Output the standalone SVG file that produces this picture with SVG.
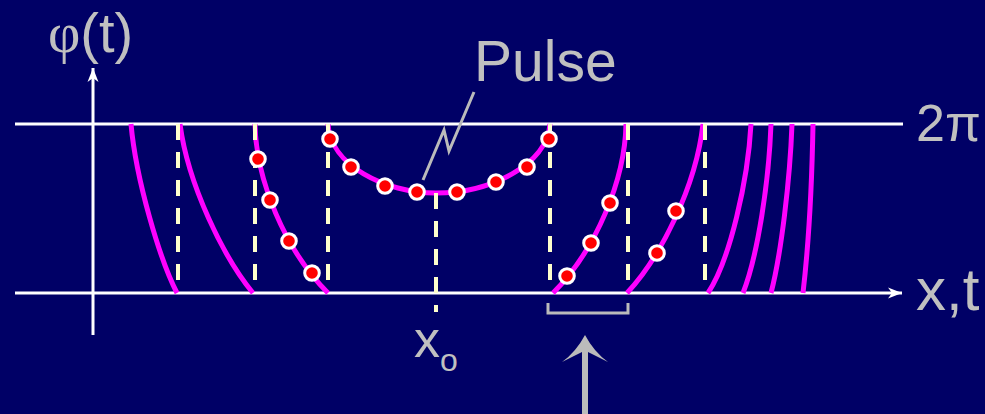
<svg xmlns="http://www.w3.org/2000/svg" width="985" height="414" viewBox="0 0 985 414">
<defs>
<style>
.axis{stroke:#FFFFFF;stroke-width:3;fill:none}
.curve{stroke:#FF00FF;stroke-width:5;fill:none;stroke-linecap:butt}
.dash{stroke:#FFFFCC;stroke-width:4;stroke-dasharray:16 12;fill:none}
.gray{stroke:#BBBBBB;stroke-width:3;fill:none}
.dot{fill:#FF0000;stroke:#FFFFFF;stroke-width:3}
.lbl{font-family:"Liberation Sans",Arial,sans-serif;fill:#C0C0C0}
</style>
<marker id="ah" markerUnits="userSpaceOnUse" viewBox="-16 -8 18 16" refX="0" refY="0" markerWidth="18" markerHeight="16" orient="auto">
<path d="M0,0 L-14,-5.5 L-10,0 L-14,5.5 Z" fill="#FFFFFF"/>
</marker>
</defs>
<rect x="0" y="0" width="985" height="414" fill="#000066"/>
<g id="axes">
<line class="axis" x1="15" y1="124" x2="903" y2="124"/>
<line class="axis" x1="15" y1="293" x2="902" y2="293" marker-end="url(#ah)"/>
<line class="axis" x1="93" y1="335" x2="93" y2="68" marker-end="url(#ah)"/>
</g>
<g id="curves">
<path class="curve" d="M131,124 C136,180 160,260 177,293"/>
<path class="curve" d="M180,124 C188,185 224,258 253,293"/>
<path class="curve" d="M255,124 C256,180 285,250 328,293"/>
<path class="curve" d="M328,124 C330,165 385,193 436,193 C490,193 547,165 550,124"/>
<path class="curve" d="M626,124 C625,180 596,250 553,293"/>
<path class="curve" d="M703,124 C696,187 660,258 627,293"/>
<path class="curve" d="M751,124 C748,180 730,260 708,293"/>
<path class="curve" d="M771,124 C769,180 758,255 743,293"/>
<path class="curve" d="M792,124 C790,180 781,255 771,293"/>
<path class="curve" d="M813,124 C812,180 808,250 803,293"/>
</g>
<g id="connectors">
<line class="dash" x1="178" y1="124" x2="178" y2="280"/>
<line class="dash" x1="255" y1="124" x2="255" y2="280"/>
<line class="dash" x1="328" y1="124" x2="328" y2="280"/>
<line class="dash" x1="550" y1="124" x2="550" y2="280"/>
<line class="dash" x1="628" y1="124" x2="628" y2="280"/>
<line class="dash" x1="705" y1="124" x2="705" y2="280"/>
<line class="dash" x1="436" y1="193" x2="436" y2="312"/>
<polyline class="gray" points="423,180 444,130 449,151 474,92"/>
<path class="gray" d="M548,303 V313 H628 V303"/>
<path d="M585,335 Q576,352 562,362 Q574,356 582,352 V414 H588 V352 Q596,356 608,362 Q594,352 585,335 Z" fill="#BBBBBB"/>
</g>
<g id="dots">
<circle class="dot" cx="258" cy="159" r="7.3"/>
<circle class="dot" cx="270" cy="200" r="7.3"/>
<circle class="dot" cx="289" cy="241" r="7.3"/>
<circle class="dot" cx="312" cy="273" r="7.3"/>
<circle class="dot" cx="330" cy="139" r="7.3"/>
<circle class="dot" cx="351" cy="167" r="7.3"/>
<circle class="dot" cx="385" cy="186" r="7.3"/>
<circle class="dot" cx="417" cy="192" r="7.3"/>
<circle class="dot" cx="457" cy="192" r="7.3"/>
<circle class="dot" cx="496" cy="182" r="7.3"/>
<circle class="dot" cx="527" cy="167" r="7.3"/>
<circle class="dot" cx="549" cy="139" r="7.3"/>
<circle class="dot" cx="567" cy="276" r="7.3"/>
<circle class="dot" cx="591" cy="243" r="7.3"/>
<circle class="dot" cx="610" cy="203" r="7.3"/>
<circle class="dot" cx="657" cy="253" r="7.3"/>
<circle class="dot" cx="676" cy="211" r="7.3"/>
</g>
<g id="label-phi"><text class="lbl" x="48" y="52" font-size="56"><tspan font-family="'Liberation Serif',serif">φ</tspan>(t)</text></g>
<g id="label-pulse"><text class="lbl" x="474" y="81" font-size="57">Pulse</text></g>
<g id="label-2pi"><text class="lbl" x="916" y="141" font-size="52">2π</text></g>
<g id="label-xt"><text class="lbl" x="916" y="310" font-size="60">x,t</text></g>
<g id="label-xo"><text class="lbl" x="414" y="357" font-size="52">x<tspan font-size="32" dy="14">o</tspan></text></g>
</svg>
